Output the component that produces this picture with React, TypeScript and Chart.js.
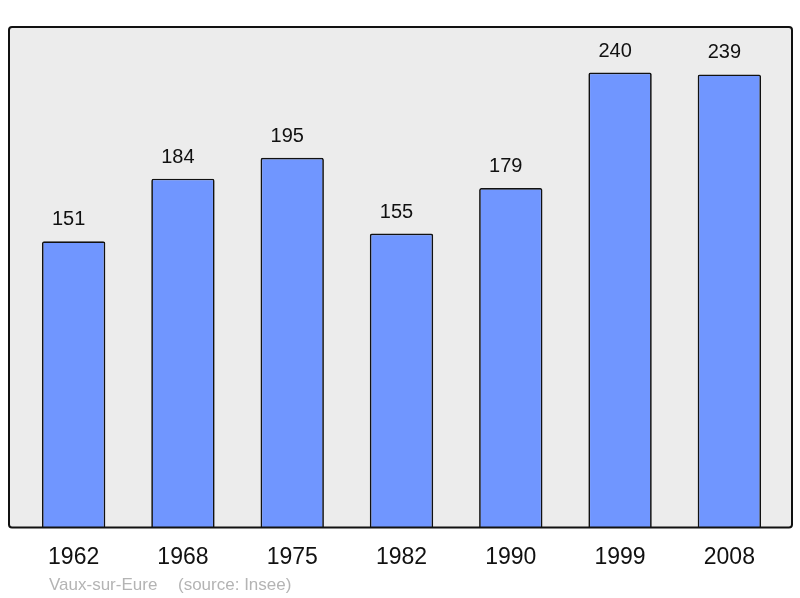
import React, { useEffect, useRef } from "react";
import { Chart, registerables } from "chart.js";

Chart.register(...registerables);

const years = ["1962", "1968", "1975", "1982", "1990", "1999", "2008"];
const population = [151, 184, 195, 155, 179, 240, 239];
const placeName = "Vaux-sur-Eure";
const sourceName = "(source: Insee)";

const FONT = "'Liberation Sans', Arial, sans-serif";

export default function App() {
  const ref = useRef<HTMLCanvasElement | null>(null);

  useEffect(() => {
    document.body.style.margin = "0";
    const canvas = ref.current;
    if (!canvas) return;

    const frame = (chartArea: any) => {
      const x = chartArea.left - 10;
      const y = chartArea.top;
      const w = chartArea.right + 8 - x;
      const h = chartArea.bottom - chartArea.top;
      return { x, y, w, h };
    };

    const bgPlugin = {
      id: "bgPlugin",
      beforeDatasetsDraw(chart: any) {
        const { ctx, chartArea } = chart;
        const { x, y, w, h } = frame(chartArea);
        ctx.save();
        ctx.beginPath();
        (ctx as any).roundRect(x, y, w, h, 3);
        ctx.fillStyle = "#ececec";
        ctx.fill();
        ctx.restore();
      },
      afterDatasetsDraw(chart: any) {
        const { ctx, chartArea } = chart;
        const { x, y, w, h } = frame(chartArea);
        ctx.save();
        ctx.beginPath();
        (ctx as any).roundRect(x, y, w, h, 3);
        ctx.lineWidth = 2;
        ctx.strokeStyle = "#111";
        ctx.stroke();

        const meta = chart.getDatasetMeta(0);
        ctx.fillStyle = "#111";
        ctx.font = `20px ${FONT}`;
        ctx.textAlign = "center";
        ctx.textBaseline = "middle";
        meta.data.forEach((bar: any, i: number) => {
          ctx.fillText(String(population[i]), bar.x - 5, bar.y - 21.5);
        });

        ctx.fillStyle = "#b4b4b4";
        ctx.font = `17px ${FONT}`;
        ctx.textAlign = "left";
        ctx.textBaseline = "alphabetic";
        ctx.fillText(placeName, 49, 590);
        ctx.fillText(sourceName, 178, 590);
        ctx.restore();
      },
    };

    const chart = new Chart(canvas, {
      type: "bar",
      data: {
        labels: years,
        datasets: [
          {
            data: population,
            backgroundColor: "#7096ff",
            borderColor: "#111",
            borderWidth: 1.7,
            borderRadius: 2,
            borderSkipped: "bottom",
            barPercentage: 0.58,
            categoryPercentage: 1,
          },
        ],
      },
      options: {
        animation: false,
        responsive: false,
        maintainAspectRatio: false,
        layout: { padding: { left: 19, right: 16, top: 27, bottom: 11 } },
        plugins: {
          legend: { display: false },
          tooltip: { enabled: false },
        },
        scales: {
          x: {
            grid: { display: false, drawTicks: false },
            border: { display: false },
            ticks: {
              color: "#111",
              font: { family: FONT, size: 23 },
              padding: 16,
              maxRotation: 0,
            },
          },
          y: {
            display: false,
            min: 0,
            max: 264,
          },
        },
      },
      plugins: [bgPlugin],
    });
    return () => chart.destroy();
  }, []);

  return (
    <div style={{ width: 800, height: 598 }}>
      <canvas ref={ref} width={800} height={598} style={{ display: "block" }} />
    </div>
  );
}
